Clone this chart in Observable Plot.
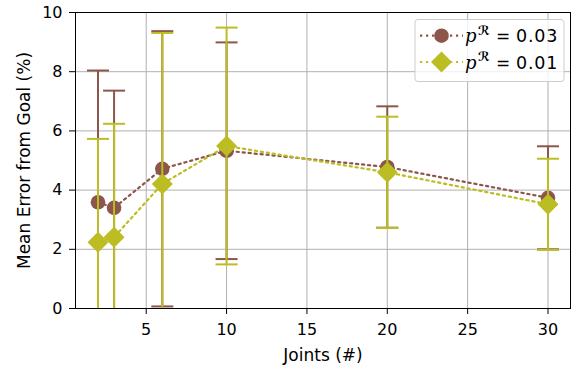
<!DOCTYPE html>
<html>
<head>
<meta charset="utf-8">
<script src="https://cdn.jsdelivr.net/npm/d3@7"></script>
<script src="https://cdn.jsdelivr.net/npm/@observablehq/plot@0.6"></script>
<style>
  html, body { margin: 0; padding: 0; background: #fff; }
  svg { display: block; }
</style>
</head>
<body>
<div id="chart"></div>
<script>
const joints = [2, 3, 6, 10, 20, 30];
const meanP03 = [3.59, 3.40, 4.72, 5.33, 4.78, 3.74];
const errP03  = [4.45, 3.96, 4.65, 3.66, 2.05, 1.74];
const meanP01 = [2.24, 2.41, 4.21, 5.49, 4.60, 3.52];
const errP01  = [3.49, 3.83, 5.10, 4.00, 1.88, 1.54];
const seriesLabels = ["0.03", "0.01"];
const xTicks = [5, 10, 15, 20, 25, 30];
const yTicks = [0, 2, 4, 6, 8, 10];

const brown = "#8c564b", olive = "#bcbd22";
const dash = "2.2,3.8";

const rows = (mean, err) => joints.map((x, i) => ({x, y: mean[i], lo: mean[i] - err[i], hi: mean[i] + err[i]}));
const d03 = rows(meanP03, errP03);
const d01 = rows(meanP01, errP01);

const capSymbol = {draw(ctx) { ctx.moveTo(-11, 0); ctx.lineTo(11, 0); }};
const diamondSymbol = {draw(ctx) { const h = 10.5; ctx.moveTo(0, -h); ctx.lineTo(h, 0); ctx.lineTo(0, h); ctx.lineTo(-h, 0); ctx.closePath(); }};

function seriesMarks(data, color, symbol, r) {
  return [
    Plot.ruleX(data, {x: "x", y1: "lo", y2: "hi", stroke: color, strokeWidth: 2, clip: true}),
    Plot.dot(data, {x: "x", y: "lo", symbol: capSymbol, stroke: color, strokeWidth: 2, clip: true}),
    Plot.dot(data, {x: "x", y: "hi", symbol: capSymbol, stroke: color, strokeWidth: 2, clip: true}),
    Plot.line(data, {x: "x", y: "y", stroke: color, strokeWidth: 2.2, strokeDasharray: dash}),
    Plot.dot(data, {x: "x", y: "y", symbol, r, fill: color, stroke: "none"})
  ];
}

const chart = Plot.plot({
  width: 571,
  height: 367,
  marginLeft: 75,
  marginRight: 1,
  marginTop: 12,
  marginBottom: 59,
  style: {fontFamily: "DejaVu Sans", fontSize: "16px", background: "#fff", color: "#000"},
  x: {domain: [0.6, 31.4]},
  y: {domain: [0, 10]},
  marks: [
    Plot.gridX(xTicks, {stroke: "#b0b0b0", strokeOpacity: 1, strokeWidth: 1}),
    Plot.gridY(yTicks, {stroke: "#b0b0b0", strokeOpacity: 1, strokeWidth: 1}),
    ...seriesMarks(d03, brown, "circle", 7.3),
    ...seriesMarks(d01, olive, diamondSymbol, 7),
    Plot.frame({stroke: "#000", strokeWidth: 1}),
    Plot.axisX(xTicks, {tickSize: 6, tickPadding: 9, fontSize: 16, label: null}),
    Plot.axisX({label: "Joints (#)", labelAnchor: "center", labelArrow: "none", labelOffset: 52, fontSize: 17, ticks: [], tickSize: 0}),
    Plot.axisY(yTicks, {tickSize: 6, tickPadding: 7, fontSize: 16, label: null}),
    Plot.axisY({label: "Mean Error from Goal (%)", labelAnchor: "center", labelArrow: "none", labelOffset: 58, fontSize: 17, ticks: [], tickSize: 0})
  ]
});

document.getElementById("chart").appendChild(chart);

// Legend
const svg = d3.select(chart);
const lg = svg.append("g").attr("text-anchor", "start");
lg.append("rect").attr("x", 415).attr("y", 19.5).attr("width", 149).attr("height", 62)
  .attr("rx", 3).attr("fill", "#fff").attr("fill-opacity", 0.8).attr("stroke", "#cccccc");
const items = [
  {label: seriesLabels[0], color: brown, kind: "circle", cy: 35.7},
  {label: seriesLabels[1], color: olive, kind: "diamond", cy: 62}
];
items.forEach((it) => {
  const cy = it.cy, base = cy + 6.5;
  lg.append("line").attr("x1", 420).attr("x2", 463).attr("y1", cy).attr("y2", cy)
    .attr("stroke", it.color).attr("stroke-width", 2.2).attr("stroke-dasharray", dash);
  if (it.kind === "circle") {
    lg.append("circle").attr("cx", 441.5).attr("cy", cy).attr("r", 7.3).attr("fill", it.color);
  } else {
    lg.append("path").attr("d", `M441.5,${cy-10.5}L452,${cy}L441.5,${cy+10.5}L431,${cy}Z`).attr("fill", it.color);
  }
  lg.append("text").attr("x", 465).attr("y", base).attr("font-family", "DejaVu Serif")
    .attr("font-style", "italic").attr("font-size", "18px").text("p");
  lg.append("text").attr("x", 478).attr("y", base - 7.5).attr("font-family", "DejaVu Sans")
    .attr("font-size", "12.5px").attr("font-weight", "bold").text("\u211B");
  lg.append("text").attr("x", 496).attr("y", base).attr("font-family", "DejaVu Sans")
    .attr("font-size", "17px").text("=");
  lg.append("text").attr("x", 516).attr("y", base).attr("font-family", "DejaVu Sans")
    .attr("font-size", "17.5px").attr("letter-spacing", "0.8px").text(it.label);
});
</script>
</body>
</html>
